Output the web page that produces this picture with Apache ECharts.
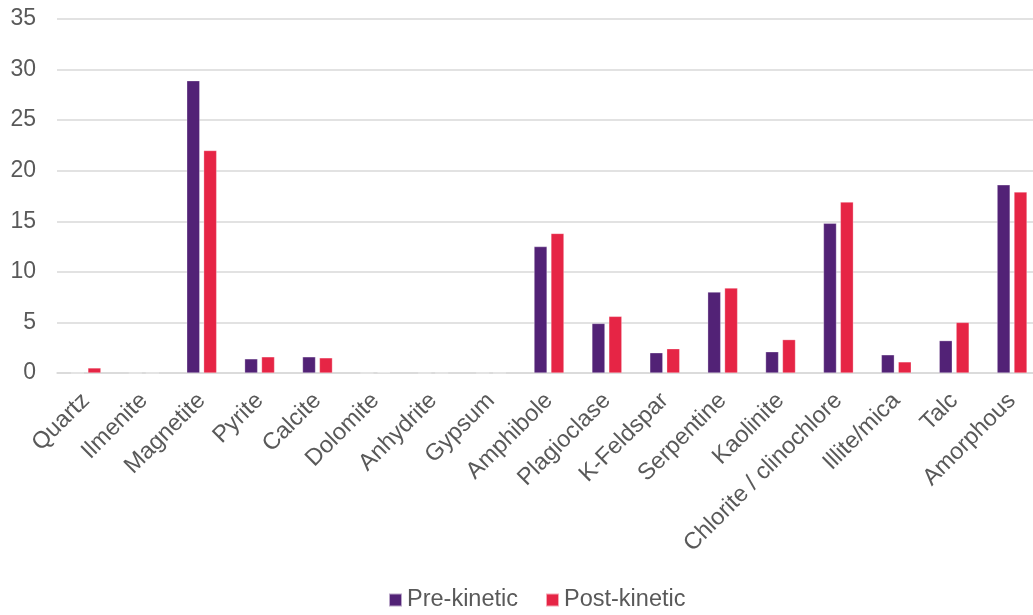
<!DOCTYPE html>
<html>
<head>
<meta charset="utf-8">
<script src="https://cdn.jsdelivr.net/npm/echarts@6/dist/echarts.min.js"></script>
<style>
  html, body { margin: 0; padding: 0; background: #fff; }
  #chart { width: 1033px; height: 615px; }
</style>
</head>
<body>
<div id="chart"></div>
<script>
// Mineral phases (wt%) before and after the kinetic test
const categories = ['Quartz', 'Ilmenite', 'Magnetite', 'Pyrite', 'Calcite', 'Dolomite', 'Anhydrite', 'Gypsum',
  'Amphibole', 'Plagioclase', 'K-Feldspar', 'Serpentine', 'Kaolinite', 'Chlorite / clinochlore',
  'Illite/mica', 'Talc', 'Amorphous'];
const preKinetic  = [0, 0, 28.9, 1.4, 1.6, 0, 0, 0, 12.5, 4.9, 2.0, 8.0, 2.1, 14.8, 1.8, 3.2, 18.6];
const postKinetic = [0.5, 0, 22.0, 1.6, 1.5, 0.05, 0, 0, 13.8, 5.6, 2.4, 8.4, 3.3, 16.9, 1.1, 5.0, 17.9];
const yTicks = { min: 0, max: 35, interval: 5 };

const chart = echarts.init(document.getElementById('chart'), null, { renderer: 'canvas' });
const font = 'Liberation Sans, Arial, sans-serif';
const textColor = '#595959';

chart.setOption({
  animation: false,
  textStyle: { fontFamily: font },
  // plot area runs slightly past the right edge of the canvas
  grid: { left: 57, width: 984, top: 19, bottom: 242, containLabel: false, outerBoundsMode: 'none' },
  legend: {
    bottom: -2,
    left: 383,
    itemWidth: 13,
    itemHeight: 13,
    itemGap: 27,
    icon: 'rect',
    textStyle: { fontSize: 23.5, color: textColor, fontFamily: font },
    data: ['Pre-kinetic', 'Post-kinetic']
  },
  xAxis: {
    type: 'category',
    data: categories,
    axisLine: { lineStyle: { color: '#d9d9d9', width: 1.5 } },
    axisTick: { show: false },
    axisLabel: {
      interval: 0,
      rotate: 45,
      fontSize: 23.5,
      color: textColor,
      fontFamily: font,
      margin: 24
    }
  },
  yAxis: {
    type: 'value',
    min: yTicks.min,
    max: yTicks.max,
    interval: yTicks.interval,
    axisLine: { show: false },
    axisTick: { show: false },
    splitLine: { lineStyle: { color: '#d9d9d9', width: 1.5 } },
    axisLabel: { fontSize: 23, color: textColor, fontFamily: font, margin: 21 }
  },
  series: [
    {
      name: 'Pre-kinetic',
      type: 'bar',
      data: preKinetic,
      barWidth: 13,
      barGap: '30%',
      itemStyle: { color: '#522276', borderColor: 'rgba(255,255,255,0.6)', borderWidth: 0.5 }
    },
    {
      name: 'Post-kinetic',
      type: 'bar',
      data: postKinetic,
      barWidth: 13,
      itemStyle: { color: '#E62545', borderColor: 'rgba(255,255,255,0.6)', borderWidth: 0.5 }
    }
  ]
});
</script>
</body>
</html>
